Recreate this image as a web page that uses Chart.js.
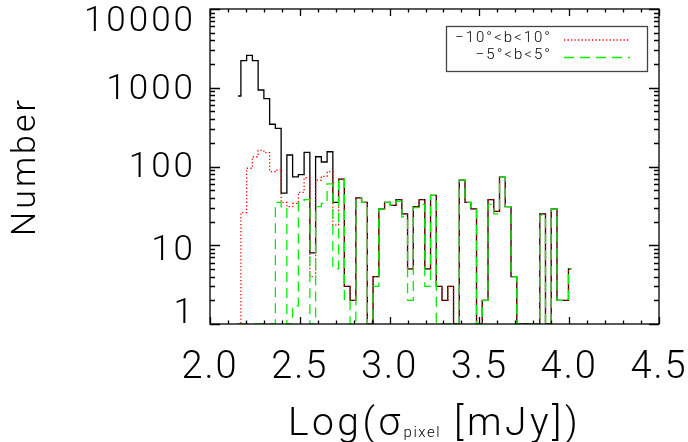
<!DOCTYPE html>
<html>
<head>
<meta charset="utf-8">
<script src="https://cdn.jsdelivr.net/npm/chart.js@4.4.1/dist/chart.umd.min.js"></script>
<style>
  html, body { margin: 0; padding: 0; background: #fff; }
  canvas { display: block; }
</style>
</head>
<body>
<canvas id="chart" width="688" height="442"></canvas>
<script>
// ---------- data ----------
// bin centres, Log(sigma_pixel [mJy])
const binCenters = [2.156, 2.188, 2.220, 2.252, 2.284, 2.316, 2.348, 2.380, 2.412, 2.444,
  2.476, 2.508, 2.540, 2.572, 2.604, 2.636, 2.668, 2.700, 2.732, 2.764,
  2.796, 2.828, 2.860, 2.892, 2.924, 2.956, 2.988, 3.020, 3.052, 3.084,
  3.116, 3.148, 3.180, 3.212, 3.244, 3.276, 3.308, 3.340, 3.372, 3.404,
  3.436, 3.468, 3.500, 3.532, 3.564, 3.596, 3.628, 3.660, 3.692, 3.724,
  3.756, 3.788, 3.820, 3.852, 3.884, 3.916, 3.948, 3.980, 4.012];

// all pixels (black, solid)
const countsAll = [786, 2206, 2584, 2206, 936, 726, 344, 305, 46, 140,
  74, 79, 151, 8, 133, 114, 154, 35, 69, 3,
  2, 40, 35, 0, 4, 29, 35, 32, 38, 25,
  5, 31, 38, 5, 43, 3, 2, 3, 0, 67,
  35, 29, 0, 2, 38, 27, 73, 31, 4, 0,
  0, 0, 0, 25, 0, 29, 2, 2, 5];

// -10° < b < 10° (red, dotted)
const counts10 = [0, 26, 95, 133, 160, 150, 86, 90, 35, 31,
  34, 47, 72, 4, 67, 75, 86, 18, 69, 3,
  2, 40, 35, 0, 4, 29, 35, 32, 38, 25,
  5, 31, 38, 5, 43, 3, 2, 3, 0, 67,
  35, 29, 0, 2, 38, 27, 73, 31, 4, 0,
  0, 0, 0, 25, 0, 29, 2, 2, 5];

// -5° < b < 5° (green, dashed)
const counts5 = [0, 0, 0, 0, 0, 0, 0, 35, 31, 0,
  1.7, 35, 38, 0, 31, 34, 60, 5, 69, 2,
  0, 40, 35, 0, 3, 29, 35, 32, 36, 23,
  2, 30, 33, 3, 43, 0, 0, 0, 0, 67,
  35, 29, 0, 2, 33, 25, 73, 31, 4, 0,
  0, 0, 0, 24, 0, 29, 2, 2, 5];

const xTicks = [2.0, 2.5, 3.0, 3.5, 4.0, 4.5];
const yTicks = [1, 10, 100, 1000, 10000];
const legendLabels = ['\u221210\u00b0<b<10\u00b0', '\u22125\u00b0<b<5\u00b0'];

// ---------- helpers ----------
const FAMILY = 'Roboto, "DejaVu Sans", sans-serif';
const Y_MIN = 1;
// empty bins sit on the bottom of the log axis (log scale drops 0s otherwise)
const pts = arr => binCenters.map((x, i) => ({ x, y: arr[i] > 0 ? arr[i] : Y_MIN }));

function txt(ctx, s, x, y, size, spacing, align){
  ctx.font = `300 ${size}px ${FAMILY}`;
  ctx.letterSpacing = spacing + 'px';
  ctx.textAlign = align || 'left';
  ctx.fillText(s, x, y);
  return ctx.measureText(s).width;
}

// IDL-style box: inward ticks on all sides, labels, titles, legend
const idlFrame = {
  id: 'idlFrame',
  beforeDraw(chart){ chart.ctx.letterSpacing = '2px'; },
  afterDraw(chart){
    const { ctx, chartArea: a, scales: { x, y } } = chart;
    ctx.save();
    ctx.strokeStyle = '#000';
    ctx.lineWidth = 1.3;
    ctx.strokeRect(a.left, a.top, a.right - a.left, a.bottom - a.top);

    ctx.beginPath();
    // x ticks: minor every 0.1, major every 0.5
    for (let i = 0; i <= 25; i++) {
      const v = 2 + i * 0.1;
      const px = Math.round(x.getPixelForValue(v)) + 0.5;
      const len = (i % 5 === 0) ? 7 : 3.5;
      ctx.moveTo(px, a.bottom); ctx.lineTo(px, a.bottom - len);
      ctx.moveTo(px, a.top); ctx.lineTo(px, a.top + len);
    }
    // y ticks: log minor
    for (let d = 0; d < 4; d++) {
      for (let m = 1; m <= 10; m++) {
        const v = m * Math.pow(10, d);
        const py = Math.round(y.getPixelForValue(v)) + 0.5;
        const len = (m === 1 || m === 10) ? 10 : 5;
        ctx.moveTo(a.left, py); ctx.lineTo(a.left + len, py);
        ctx.moveTo(a.right, py); ctx.lineTo(a.right - len, py);
      }
    }
    ctx.stroke();

    ctx.fillStyle = '#000';
    ctx.textBaseline = 'middle';
    // y tick labels (IDL nudges the end labels inside the box)
    const nudge = { 1: -10, 10: 6, 100: 2, 1000: 2, 10000: 13 };
    yTicks.forEach(v => {
      txt(ctx, String(v), 196, y.getPixelForValue(v) + nudge[v], 35, 3, 'right');
    });

    // y title
    ctx.save();
    ctx.translate(26, (a.top + a.bottom) / 2);
    ctx.rotate(-Math.PI / 2);
    txt(ctx, 'Number', 0, 0, 34, 3, 'center');
    ctx.restore();

    // x title with subscript
    ctx.textBaseline = 'alphabetic';
    const parts = [['Log(\u03c3', 39, 3.5, 0], ['pixel', 15, 1.5, 2], [' [mJy])', 39, 3.5, 0]];
    let total = 0;
    parts.forEach(p => { ctx.font = `300 ${p[1]}px ${FAMILY}`; ctx.letterSpacing = p[2] + 'px'; total += ctx.measureText(p[0]).width; });
    let cx = (a.left + a.right) / 2 - total / 2;
    parts.forEach(p => { cx += txt(ctx, p[0], cx, 435 + p[3], p[1], p[2], 'left'); });

    // legend
    const ds = chart.data.datasets;
    ctx.lineWidth = 1.3;
    ctx.strokeStyle = '#444';
    ctx.strokeRect(446.5, 26.5, 201, 45);
    const rows = [[1, 41.5, 40], [2, 59, 57.5]];
    rows.forEach(([k, base, ly], i) => {
      txt(ctx, legendLabels[i], 552, base, 15, 2, 'right');
      ctx.beginPath();
      ctx.strokeStyle = ds[k].borderColor;
      ctx.lineWidth = ds[k].borderWidth;
      ctx.setLineDash(ds[k].borderDash);
      ctx.moveTo(564, ly); ctx.lineTo(630, ly);
      ctx.stroke();
    });
    ctx.setLineDash([]);
    ctx.restore();
    ctx.letterSpacing = '0px';
  }
};

new Chart(document.getElementById('chart'), {
  type: 'line',
  data: {
    datasets: [
      { label: 'all', data: pts(countsAll), borderColor: '#000000', borderWidth: 1.3,
        borderDash: [], stepped: 'middle', pointRadius: 0, fill: false, order: 3 },
      { label: legendLabels[0], data: pts(counts10), borderColor: '#ff0000', borderWidth: 1.3,
        borderDash: [1.3, 2.2], stepped: 'middle', pointRadius: 0, fill: false, order: 2 },
      { label: legendLabels[1], data: pts(counts5), borderColor: '#00ee00', borderWidth: 1.3,
        borderDash: [10, 6], stepped: 'middle', pointRadius: 0, fill: false, order: 1 }
    ]
  },
  options: {
    responsive: false,
    animation: false,
    devicePixelRatio: 1,
    layout: { padding: { left: 0, top: 9, right: 29, bottom: 0 } },
    plugins: { legend: { display: false }, tooltip: { enabled: false } },
    scales: {
      x: {
        type: 'linear', min: 2, max: 4.5,
        grid: { display: false, drawTicks: false },
        border: { display: false },
        afterBuildTicks: s => { s.ticks = xTicks.map(v => ({ value: v })); },
        afterFit: s => { s.height = 118; s.paddingLeft = 0; s.paddingRight = 0; },
        ticks: {
          color: '#000', padding: 22, maxRotation: 0, autoSkip: false,
          font: { family: FAMILY, size: 38, weight: 300 },
          callback: v => Number(v).toFixed(1)
        }
      },
      y: {
        type: 'logarithmic', min: Y_MIN, max: 10000,
        grid: { display: false, drawTicks: false },
        border: { display: false },
        afterBuildTicks: s => { s.ticks = yTicks.map(v => ({ value: v })); },
        afterFit: s => { s.width = 210; s.paddingTop = 0; s.paddingBottom = 0; },
        ticks: { display: false }
      }
    }
  },
  plugins: [idlFrame]
});
</script>
</body>
</html>
